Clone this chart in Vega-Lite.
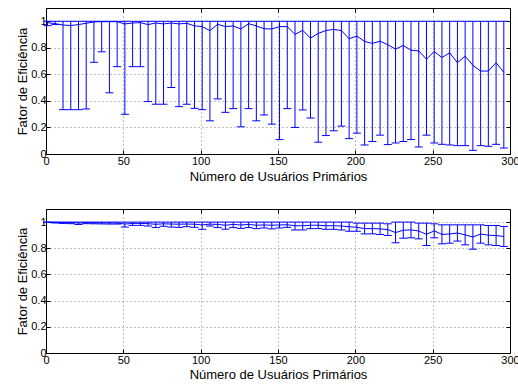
{
  "$schema": "https://vega.github.io/schema/vega-lite/v6.json",
  "padding": {"left": 16, "top": 7, "right": 0, "bottom": 0},
  "background": "white",
  "bounds": "flush",
  "spacing": 55,
  "config": {
    "view": {"stroke": "#000", "strokeWidth": 1},
    "axis": {
      "labelFont": "Liberation Sans", "labelFontSize": 11, "labelColor": "#000",
      "titleFont": "Liberation Sans", "titleFontSize": 13, "titleFontWeight": "normal", "titleColor": "#000",
      "domainColor": "#000", "tickColor": "#000", "tickSize": -4,
      "gridColor": "#000", "gridDash": [1, 3], "gridOpacity": 0.5, "labelFlush": false
    }
  },
  "datasets": {
    "top": [
      {"x":1,"mean":0.99,"lo":0.967,"hi":1},{"x":6,"mean":0.982,"lo":0.975,"hi":1},{"x":11,"mean":0.972,"lo":0.334,"hi":1},{"x":16,"mean":0.968,"lo":0.334,"hi":1},{"x":21,"mean":0.975,"lo":0.334,"hi":1},{"x":26,"mean":0.985,"lo":0.339,"hi":1},{"x":31,"mean":0.995,"lo":0.691,"hi":1},{"x":36,"mean":0.997,"lo":0.77,"hi":1},{"x":41,"mean":0.997,"lo":0.461,"hi":1},{"x":46,"mean":0.997,"lo":0.658,"hi":1},
      {"x":51,"mean":0.98,"lo":0.299,"hi":1},{"x":56,"mean":0.987,"lo":0.658,"hi":1},{"x":61,"mean":0.99,"lo":0.658,"hi":1},{"x":66,"mean":0.975,"lo":0.395,"hi":1},{"x":71,"mean":0.987,"lo":0.375,"hi":1},{"x":76,"mean":0.98,"lo":0.375,"hi":1},{"x":81,"mean":0.987,"lo":0.501,"hi":1},{"x":86,"mean":0.98,"lo":0.357,"hi":1},{"x":91,"mean":0.985,"lo":0.375,"hi":1},{"x":96,"mean":0.965,"lo":0.344,"hi":1},
      {"x":101,"mean":0.96,"lo":0.334,"hi":1},{"x":106,"mean":0.93,"lo":0.25,"hi":1},{"x":111,"mean":0.977,"lo":0.415,"hi":1},{"x":116,"mean":0.96,"lo":0.314,"hi":1},{"x":121,"mean":0.965,"lo":0.342,"hi":1},{"x":126,"mean":0.942,"lo":0.205,"hi":1},{"x":131,"mean":0.982,"lo":0.342,"hi":1},{"x":136,"mean":0.965,"lo":0.25,"hi":1},{"x":141,"mean":0.944,"lo":0.294,"hi":1},{"x":146,"mean":0.942,"lo":0.225,"hi":1},
      {"x":151,"mean":0.96,"lo":0.109,"hi":1},{"x":156,"mean":0.96,"lo":0.342,"hi":1},{"x":161,"mean":0.901,"lo":0.2,"hi":1},{"x":166,"mean":0.932,"lo":0.332,"hi":1},{"x":171,"mean":0.873,"lo":0.271,"hi":1},{"x":176,"mean":0.909,"lo":0.089,"hi":1},{"x":181,"mean":0.93,"lo":0.139,"hi":1},{"x":186,"mean":0.939,"lo":0.175,"hi":1},{"x":191,"mean":0.93,"lo":0.21,"hi":1},{"x":196,"mean":0.868,"lo":0.116,"hi":1},
      {"x":201,"mean":0.889,"lo":0.157,"hi":1},{"x":206,"mean":0.848,"lo":0.068,"hi":1},{"x":211,"mean":0.833,"lo":0.094,"hi":1},{"x":216,"mean":0.85,"lo":0.142,"hi":1},{"x":221,"mean":0.823,"lo":0.071,"hi":1},{"x":226,"mean":0.79,"lo":0.083,"hi":1},{"x":231,"mean":0.818,"lo":0.094,"hi":1},{"x":236,"mean":0.782,"lo":0.109,"hi":1},{"x":241,"mean":0.777,"lo":0.053,"hi":1},{"x":246,"mean":0.714,"lo":0.142,"hi":1},
      {"x":251,"mean":0.772,"lo":0.083,"hi":1},{"x":256,"mean":0.727,"lo":0.073,"hi":1},{"x":261,"mean":0.762,"lo":0.068,"hi":1},{"x":266,"mean":0.688,"lo":0.063,"hi":1},{"x":271,"mean":0.737,"lo":0.063,"hi":1},{"x":276,"mean":0.668,"lo":0.028,"hi":1},{"x":281,"mean":0.625,"lo":0.063,"hi":1},{"x":286,"mean":0.625,"lo":0.058,"hi":1},{"x":291,"mean":0.688,"lo":0.073,"hi":1},{"x":296,"mean":0.615,"lo":0.045,"hi":1}
    ],
    "bottom": [
      {"x":1,"mean":1.0,"lo":0.998,"hi":1},{"x":6,"mean":0.998,"lo":0.993,"hi":1},{"x":11,"mean":0.997,"lo":0.99,"hi":1},{"x":16,"mean":0.996,"lo":0.988,"hi":1},{"x":21,"mean":0.993,"lo":0.982,"hi":1},{"x":26,"mean":0.995,"lo":0.988,"hi":1},{"x":31,"mean":0.994,"lo":0.987,"hi":1},{"x":36,"mean":0.994,"lo":0.986,"hi":1},{"x":41,"mean":0.993,"lo":0.985,"hi":1},{"x":46,"mean":0.993,"lo":0.985,"hi":1},
      {"x":51,"mean":0.985,"lo":0.962,"hi":1},{"x":56,"mean":0.99,"lo":0.975,"hi":1},{"x":61,"mean":0.99,"lo":0.975,"hi":1},{"x":66,"mean":0.988,"lo":0.97,"hi":1},{"x":71,"mean":0.983,"lo":0.958,"hi":1},{"x":76,"mean":0.987,"lo":0.968,"hi":1},{"x":81,"mean":0.985,"lo":0.962,"hi":1},{"x":86,"mean":0.984,"lo":0.96,"hi":1},{"x":91,"mean":0.985,"lo":0.965,"hi":1},{"x":96,"mean":0.984,"lo":0.96,"hi":1},
      {"x":101,"mean":0.978,"lo":0.945,"hi":1},{"x":106,"mean":0.985,"lo":0.97,"hi":1},{"x":111,"mean":0.982,"lo":0.958,"hi":1},{"x":116,"mean":0.976,"lo":0.946,"hi":1},{"x":121,"mean":0.982,"lo":0.958,"hi":1},{"x":126,"mean":0.978,"lo":0.952,"hi":1},{"x":131,"mean":0.982,"lo":0.958,"hi":1},{"x":136,"mean":0.976,"lo":0.95,"hi":1},{"x":141,"mean":0.978,"lo":0.955,"hi":1},{"x":146,"mean":0.976,"lo":0.948,"hi":1},
      {"x":151,"mean":0.978,"lo":0.955,"hi":1},{"x":156,"mean":0.98,"lo":0.96,"hi":1},{"x":161,"mean":0.972,"lo":0.94,"hi":1},{"x":166,"mean":0.972,"lo":0.94,"hi":1},{"x":171,"mean":0.976,"lo":0.95,"hi":1},{"x":176,"mean":0.976,"lo":0.95,"hi":1},{"x":181,"mean":0.972,"lo":0.945,"hi":1},{"x":186,"mean":0.972,"lo":0.945,"hi":1},{"x":191,"mean":0.97,"lo":0.94,"hi":1},{"x":196,"mean":0.965,"lo":0.93,"hi":1},
      {"x":201,"mean":0.96,"lo":0.93,"hi":0.992},{"x":206,"mean":0.95,"lo":0.91,"hi":0.992},{"x":211,"mean":0.95,"lo":0.91,"hi":0.992},{"x":216,"mean":0.948,"lo":0.905,"hi":0.992},{"x":221,"mean":0.943,"lo":0.898,"hi":0.987},{"x":226,"mean":0.92,"lo":0.842,"hi":1},{"x":231,"mean":0.938,"lo":0.877,"hi":1},{"x":236,"mean":0.94,"lo":0.88,"hi":1},{"x":241,"mean":0.932,"lo":0.872,"hi":0.992},{"x":246,"mean":0.906,"lo":0.821,"hi":0.992},
      {"x":251,"mean":0.933,"lo":0.88,"hi":0.987},{"x":256,"mean":0.906,"lo":0.834,"hi":0.979},{"x":261,"mean":0.909,"lo":0.839,"hi":0.979},{"x":266,"mean":0.917,"lo":0.855,"hi":0.979},{"x":271,"mean":0.902,"lo":0.826,"hi":0.979},{"x":276,"mean":0.886,"lo":0.793,"hi":0.979},{"x":281,"mean":0.909,"lo":0.839,"hi":0.979},{"x":286,"mean":0.9,"lo":0.826,"hi":0.974},{"x":291,"mean":0.897,"lo":0.821,"hi":0.974},{"x":296,"mean":0.89,"lo":0.814,"hi":0.967}
    ]
  },
  "vconcat": [
    {
      "width": 464,
      "height": 146,
      "data": {"name": "top"},
      "layer": [
        {
          "mark": {"type": "rule", "color": "#0000ff", "strokeWidth": 1},
          "encoding": {
            "x": {"field": "x", "type": "quantitative", "scale": {"domain": [0, 300], "nice": false},
                  "axis": {"values": [0, 50, 100, 150, 200, 250, 300], "title": "Número de Usuários Primários", "labelPadding": 5, "titlePadding": 4}},
            "y": {"field": "lo", "type": "quantitative", "scale": {"domain": [0, 1.1], "nice": false},
                  "axis": {"values": [0, 0.2, 0.4, 0.6, 0.8, 1], "format": "~g", "title": "Fator de Eficiência", "labelPadding": 4, "titlePadding": 1}},
            "y2": {"field": "hi"}
          }
        },
        {
          "mark": {"type": "tick", "orient": "horizontal", "color": "#0000ff", "size": 8, "thickness": 1, "opacity": 1},
          "encoding": {
            "x": {"field": "x", "type": "quantitative", "axis": null},
            "y": {"field": "lo", "type": "quantitative", "axis": null}
          }
        },
        {
          "mark": {"type": "tick", "orient": "horizontal", "color": "#0000ff", "size": 8, "thickness": 1, "opacity": 1},
          "encoding": {
            "x": {"field": "x", "type": "quantitative", "axis": null},
            "y": {"field": "hi", "type": "quantitative", "axis": null}
          }
        },
        {
          "mark": {"type": "line", "color": "#0000ff", "strokeWidth": 1},
          "encoding": {
            "x": {"field": "x", "type": "quantitative", "axis": {"orient": "top", "values": [0, 50, 100, 150, 200, 250, 300], "labels": false, "title": null, "grid": false, "domain": false}},
            "y": {"field": "mean", "type": "quantitative", "axis": {"orient": "right", "values": [0, 0.2, 0.4, 0.6, 0.8, 1], "labels": false, "title": null, "grid": false, "domain": false}}
          }
        }
      ],
      "resolve": {"axis": {"x": "independent", "y": "independent"}}
    },
    {
      "width": 464,
      "height": 144,
      "data": {"name": "bottom"},
      "layer": [
        {
          "mark": {"type": "rule", "color": "#0000ff", "strokeWidth": 1},
          "encoding": {
            "x": {"field": "x", "type": "quantitative", "scale": {"domain": [0, 300], "nice": false},
                  "axis": {"values": [0, 50, 100, 150, 200, 250, 300], "title": "Número de Usuários Primários", "labelPadding": 5, "titlePadding": 3}},
            "y": {"field": "lo", "type": "quantitative", "scale": {"domain": [0, 1.1], "nice": false},
                  "axis": {"values": [0, 0.2, 0.4, 0.6, 0.8, 1], "format": "~g", "title": "Fator de Eficiência", "labelPadding": 4, "titlePadding": 1}},
            "y2": {"field": "hi"}
          }
        },
        {
          "mark": {"type": "tick", "orient": "horizontal", "color": "#0000ff", "size": 8, "thickness": 1, "opacity": 1},
          "encoding": {
            "x": {"field": "x", "type": "quantitative", "axis": null},
            "y": {"field": "lo", "type": "quantitative", "axis": null}
          }
        },
        {
          "mark": {"type": "tick", "orient": "horizontal", "color": "#0000ff", "size": 8, "thickness": 1, "opacity": 1},
          "encoding": {
            "x": {"field": "x", "type": "quantitative", "axis": null},
            "y": {"field": "hi", "type": "quantitative", "axis": null}
          }
        },
        {
          "mark": {"type": "line", "color": "#0000ff", "strokeWidth": 1},
          "encoding": {
            "x": {"field": "x", "type": "quantitative", "axis": {"orient": "top", "values": [0, 50, 100, 150, 200, 250, 300], "labels": false, "title": null, "grid": false, "domain": false}},
            "y": {"field": "mean", "type": "quantitative", "axis": {"orient": "right", "values": [0, 0.2, 0.4, 0.6, 0.8, 1], "labels": false, "title": null, "grid": false, "domain": false}}
          }
        }
      ],
      "resolve": {"axis": {"x": "independent", "y": "independent"}}
    }
  ]
}
